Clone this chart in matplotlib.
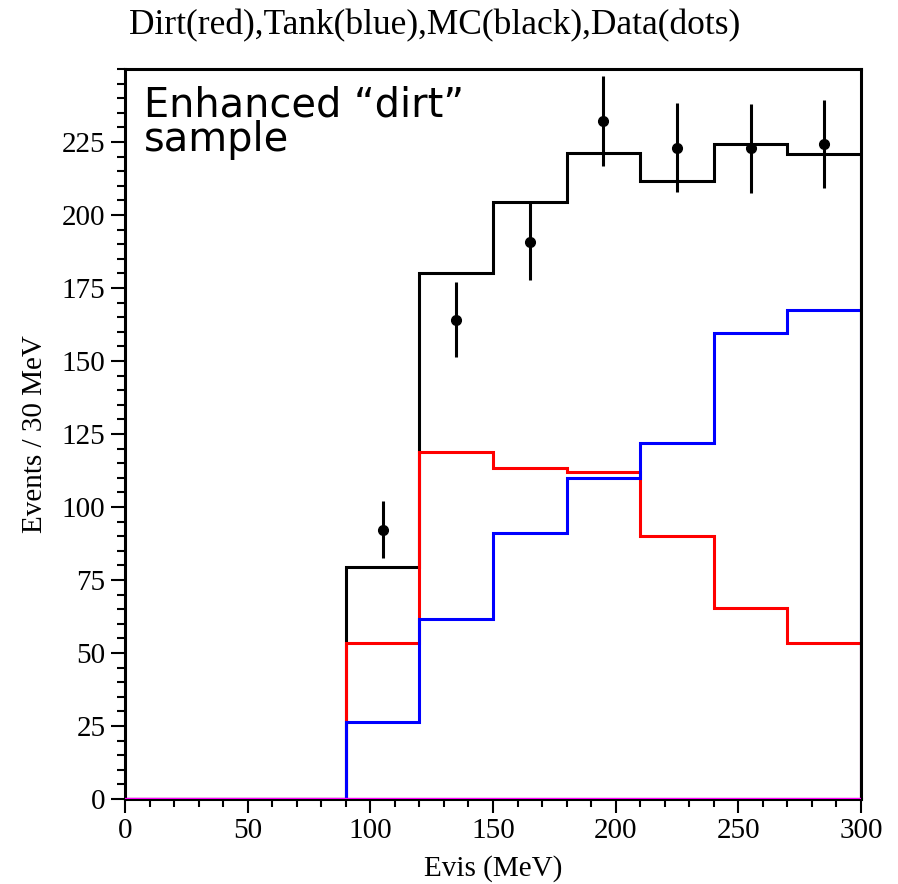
import numpy as np
import matplotlib
matplotlib.use('Agg')
import matplotlib.pyplot as plt
from matplotlib.ticker import MultipleLocator

# bin edges in MeV (30 MeV bins)
edges = [0, 30, 60, 90, 120, 150, 180, 210, 240, 270, 300]

# dirt (red), tank (blue), total MC (black)
dirt = [0, 0, 0, 53.3, 118.8, 113.3, 112.1, 90.1, 65.4, 53.3]
tank = [0, 0, 0, 26.5, 61.7, 91.0, 109.9, 121.8, 159.7, 167.5]
mc = [0, 0, 0, 79.3, 180.2, 204.4, 221.3, 211.6, 224.3, 220.9]

# data points
data_x = [105, 135, 165, 195, 225, 255, 285]
data_y = [92.2, 164.2, 190.9, 232.2, 223.0, 222.9, 224.2]
data_err = [9.8, 12.7, 13.3, 15.5, 15.2, 15.2, 15.1]

serif = 'Liberation Serif'

fig = plt.figure(figsize=(8.98, 8.84), dpi=100)
ax = fig.add_axes([0.1392, 0.0962, 0.8196, 0.8257])

ax.stairs(mc, edges, baseline=0, color='black', lw=2.2)
ax.stairs(dirt, edges, baseline=0, color='#ff0000', lw=2.2)
ax.stairs(tank, edges, baseline=0, color='#0000ff', lw=2.2)
ax.plot([0, 300], [0, 0], color='#ff00ff', lw=2.4, zorder=5)

ax.errorbar(data_x, data_y, yerr=data_err, fmt='o', color='black',
            ms=7, elinewidth=2.2, capsize=0, zorder=6)

ax.set_xlim(0, 300)
ax.set_ylim(0, 250)

ax.xaxis.set_major_locator(MultipleLocator(50))
ax.xaxis.set_minor_locator(MultipleLocator(10))
ax.yaxis.set_major_locator(MultipleLocator(25))
ax.yaxis.set_minor_locator(MultipleLocator(5))
ax.set_yticks(np.arange(0, 226, 25))

ax.tick_params(which='both', direction='out', width=1.5, top=False, right=False)
ax.tick_params(which='major', length=10, labelsize=21, pad=4)
ax.tick_params(which='minor', length=6)
for lab in ax.get_xticklabels() + ax.get_yticklabels():
    lab.set_fontfamily(serif)

for s in ax.spines.values():
    s.set_linewidth(2.2)

ax.set_xlabel('Evis (MeV)', fontsize=21, family=serif, labelpad=8)
ax.set_ylabel('Events / 30 MeV', fontsize=21, family=serif, labelpad=10)

fig.text(0.484, 0.971, 'Dirt(red),Tank(blue),MC(black),Data(dots)',
         fontsize=25.5, family=serif, ha='center', va='center')

ax.text(0.026, 0.978, 'Enhanced \u201cdirt\u201d\nsample', transform=ax.transAxes,
        fontsize=28.7, family='DejaVu Sans', ha='left', va='top', linespacing=0.85)

fig.savefig('out.png', dpi=100)
